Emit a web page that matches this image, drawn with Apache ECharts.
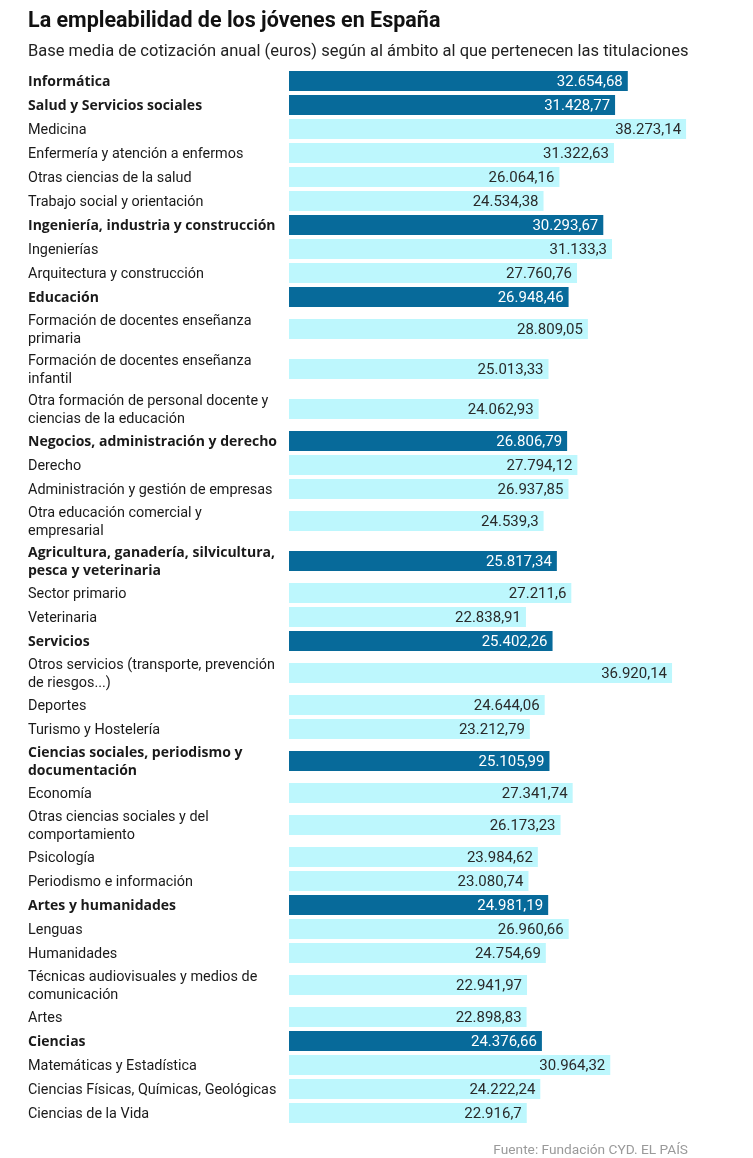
<!DOCTYPE html>
<html>
<head>
<meta charset="utf-8">
<script src="https://cdn.jsdelivr.net/npm/echarts@6/dist/echarts.min.js"></script>
<style>
  html, body { margin: 0; padding: 0; background: #fff; }
  #chart { width: 753px; height: 1158px; }
</style>
</head>
<body>
<div id="chart"></div>
<script>
const titleText = 'La empleabilidad de los jóvenes en España';
const subtitleText = 'Base media de cotización anual (euros) según al ámbito al que pertenecen las titulaciones';
const sourceText = 'Fuente: Fundación CYD. EL PAÍS';

const categories = [
  'Informática',
  'Salud y Servicios sociales',
  'Medicina',
  'Enfermería y atención a enfermos',
  'Otras ciencias de la salud',
  'Trabajo social y orientación',
  'Ingeniería, industria y construcción',
  'Ingenierías',
  'Arquitectura y construcción',
  'Educación',
  'Formación de docentes enseñanza\nprimaria',
  'Formación de docentes enseñanza\ninfantil',
  'Otra formación de personal docente y\nciencias de la educación',
  'Negocios, administración y derecho',
  'Derecho',
  'Administración y gestión de empresas',
  'Otra educación comercial y\nempresarial',
  'Agricultura, ganadería, silvicultura,\npesca y veterinaria',
  'Sector primario',
  'Veterinaria',
  'Servicios',
  'Otros servicios (transporte, prevención\nde riesgos...)',
  'Deportes',
  'Turismo y Hostelería',
  'Ciencias sociales, periodismo y\ndocumentación',
  'Economía',
  'Otras ciencias sociales y del\ncomportamiento',
  'Psicología',
  'Periodismo e información',
  'Artes y humanidades',
  'Lenguas',
  'Humanidades',
  'Técnicas audiovisuales y medios de\ncomunicación',
  'Artes',
  'Ciencias',
  'Matemáticas y Estadística',
  'Ciencias Físicas, Químicas, Geológicas',
  'Ciencias de la Vida'
];

const values = [
  32654.68, 31428.77, 38273.14, 31322.63, 26064.16, 24534.38,
  30293.67, 31133.3, 27760.76,
  26948.46, 28809.05, 25013.33, 24062.93,
  26806.79, 27794.12, 26937.85, 24539.3,
  25817.34, 27211.6, 22838.91,
  25402.26, 36920.14, 24644.06, 23212.79,
  25105.99, 27341.74, 26173.23, 23984.62, 23080.74,
  24981.19, 26960.66, 24754.69, 22941.97, 22898.83,
  24376.66, 30964.32, 24222.24, 22916.7
];

// 1 = area (group total, bold, dark bar), 0 = titulación
const isGroup = [
  1, 1, 0, 0, 0, 0,
  1, 0, 0,
  1, 0, 0, 0,
  1, 0, 0, 0,
  1, 0, 0,
  1, 0, 0, 0,
  1, 0, 0, 0, 0,
  1, 0, 0, 0, 0,
  1, 0, 0, 0
];

const xTicks = [0, 40000];

function fmtES(v) {
  const s = String(v);
  const parts = s.split('.');
  const intPart = parts[0].replace(/\B(?=(\d{3})+(?!\d))/g, '.');
  return parts.length > 1 ? intPart + ',' + parts[1] : intPart;
}

// row layout: one-line rows are 24 units tall, two-line rows 40
const rowH = categories.map(c => c.indexOf('\n') >= 0 ? 40 : 24);
const rowCenter = [];
let acc = 0;
rowH.forEach(h => { rowCenter.push(acc + h / 2); acc += h; });
const total = acc;

const seriesData = values.map((v, i) => [v, rowCenter[i], isGroup[i], i]);

const DARK = '#076a9a';
const LIGHT = '#bdf7fd';
const FONT = 'Roboto, "Liberation Sans", sans-serif';
const BOLDFONT = '"Open Sans", Roboto, sans-serif';

const chart = echarts.init(document.getElementById('chart'), null, { renderer: 'canvas' });
chart.setOption({
  animation: false,
  backgroundColor: '#fff',
  title: [
    { text: titleText, left: 28, top: 11, padding: 0,
      textStyle: { fontFamily: FONT, fontSize: 21.5, fontWeight: 'bold', color: '#111' } },
    { text: subtitleText, left: 28, top: 43, padding: 0,
      textStyle: { fontFamily: FONT, fontSize: 16.5, fontWeight: 'normal', color: '#222' } },
    { text: sourceText, right: 65, top: 1144, padding: 0,
      textStyle: { fontFamily: FONT, fontSize: 13.7, fontWeight: 'normal', color: '#9a9a9a' } }
  ],
  grid: { left: 289, width: 415, top: 69, height: total },
  xAxis: { type: 'value', min: xTicks[0], max: xTicks[1], show: false },
  yAxis: { type: 'value', min: 0, max: total, inverse: true, show: false },
  series: [{
    type: 'custom',
    data: seriesData,
    encode: { x: 0, y: 1 },
    clip: false,
    renderItem: function (params, api) {
      const v = api.value(0);
      const c = api.value(1);
      const grp = api.value(2) === 1;
      const idx = api.value(3);
      const p0 = api.coord([0, c]);
      const p1 = api.coord([v, c]);
      return {
        type: 'group',
        children: [
          { type: 'rect',
            shape: { x: p0[0], y: p0[1] - 10, width: p1[0] - p0[0], height: 20 },
            style: { fill: grp ? DARK : LIGHT } },
          { type: 'text',
            style: { x: p1[0] - 5, y: p0[1] + 1, text: fmtES(values[idx]),
              align: 'right', verticalAlign: 'middle',
              font: '15px ' + FONT, fill: grp ? '#ffffff' : '#2a2a2a' } },
          { type: 'text',
            style: { x: 28, y: p0[1] + 1, text: categories[idx],
              align: 'left', verticalAlign: 'middle', lineHeight: 18,
              font: grp ? ('bold 14px ' + BOLDFONT) : ('14.4px ' + FONT), fill: '#1a1a1a' } }
        ]
      };
    }
  }]
});
</script>
</body>
</html>
